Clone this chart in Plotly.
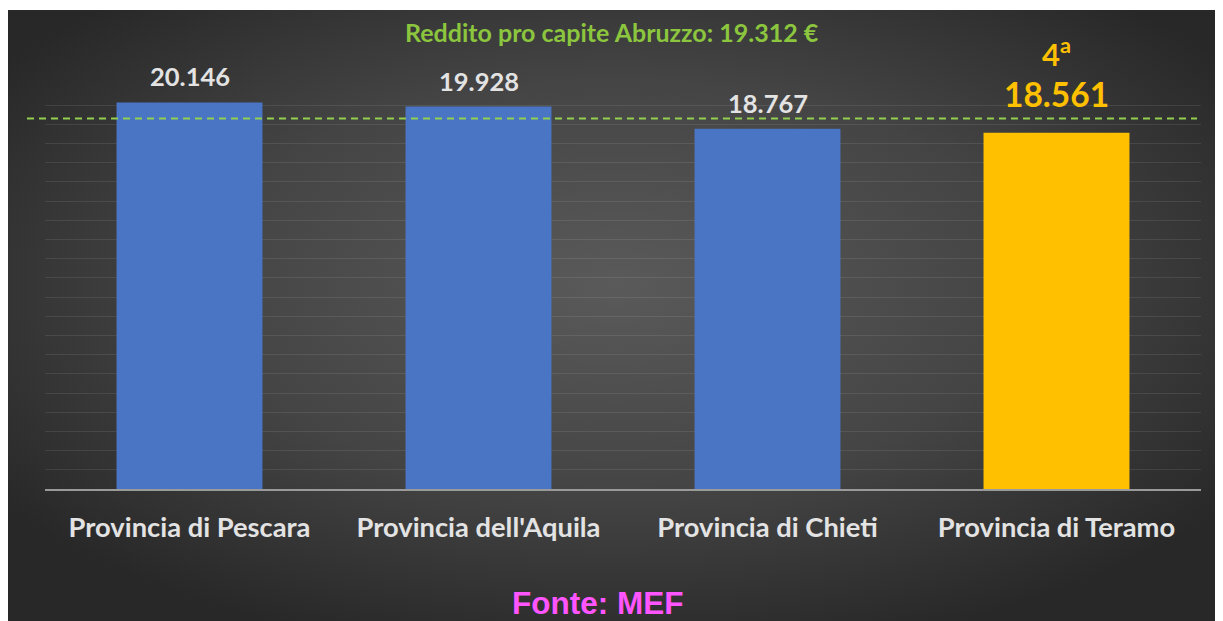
import base64
import plotly.graph_objects as go

# ---- data ----
categories = ["Provincia di Pescara", "Provincia dell'Aquila", "Provincia di Chieti", "Provincia di Teramo"]
values = [20146, 19928, 18767, 18561]
regional_avg = 19312
rank_label = "4<sup>a</sup>"
avg_label = "Reddito pro capite Abruzzo: 19.312 €"
source_label = "Fonte: MEF"

# page body adds an 8px offset; figure sized to fill the rest of the window
W, H = 1215, 613
ML, MR, MT, MB = 37, 22, 78, 132
PW, PH = W - ML - MR, H - MT - MB

def fmt(v):
    return f"{v:,}".replace(",", ".")

svg = f'''<svg xmlns="http://www.w3.org/2000/svg" width="{W}" height="{H}" viewBox="0 0 {W} {H}" preserveAspectRatio="none">
<defs><radialGradient id="g" cx="0.5" cy="0.45" r="0.62">
<stop offset="0" stop-color="#5a5a5a"/><stop offset="0.55" stop-color="#444444"/><stop offset="1" stop-color="#282828"/>
</radialGradient></defs>
<rect x="0" y="0" width="{W}" height="{H}" fill="#ffffff"/>
<rect x="0" y="2" width="{W}" height="{H-2}" fill="url(#g)"/>
</svg>'''
bg_uri = "data:image/svg+xml;base64," + base64.b64encode(svg.encode()).decode()

colors = ["#4a74c4", "#4a74c4", "#4a74c4", "#ffc000"]

fig = go.Figure()
fig.add_trace(go.Bar(x=categories, y=values, marker=dict(color=colors, line=dict(width=0)),
                     width=0.505, hoverinfo="x+y"))

fig.add_shape(type="line", xref="paper", yref="y", x0=-18 / PW, x1=1152 / PW,
              y0=regional_avg, y1=regional_avg,
              line=dict(color="#92d050", width=2, dash="7px,5px"), layer="above")

ann = []
for c, v in zip(categories[:3], values[:3]):
    ann.append(dict(x=c, y=v, xref="x", yref="y", text=fmt(v), showarrow=False,
                    yanchor="middle", yshift=26,
                    font=dict(family="Lato", size=25.5, color="#e3e3e3", weight="bold")))
ann.append(dict(x=categories[3], y=values[3], xref="x", yref="y", text=fmt(values[3]), showarrow=False,
                yanchor="middle", yshift=39,
                font=dict(family="Lato", size=33.5, color="#ffc000", weight="bold")))
ann.append(dict(x=categories[3], y=values[3], xref="x", yref="y", text=rank_label, showarrow=False,
                yanchor="middle", yshift=80,
                font=dict(family="Lato", size=31, color="#ffc000", weight="bold")))
ann.append(dict(x=(612 - 8 - ML) / PW, y=(H - MB - 24) / PH, xref="paper", yref="paper", text=avg_label,
                showarrow=False, xanchor="center", yanchor="middle",
                font=dict(family="Lato", size=25, color="#8cc63e", weight="bold")))
ann.append(dict(x=(597 - 8 - ML) / PW, y=(H - MB - 595) / PH, xref="paper", yref="paper", text=source_label,
                showarrow=False, xanchor="center", yanchor="middle",
                font=dict(family="Liberation Sans, Arial", size=31.5, color="#ff55ff", weight="bold")))

fig.update_layout(
    width=W, height=H,
    margin=dict(l=ML, r=MR, t=MT, b=MB),
    paper_bgcolor="#2e2e2e", plot_bgcolor="rgba(0,0,0,0)",
    showlegend=False, bargap=0.495,
    annotations=ann,
    images=[dict(source=bg_uri, xref="paper", yref="paper", x=-ML / PW, y=(H - MB) / PH,
                 sizex=W / PW, sizey=H / PH, xanchor="left", yanchor="top",
                 sizing="stretch", layer="below")],
    xaxis=dict(showline=True, linecolor="#9a9a9a", linewidth=2, ticks="", showgrid=False,
               tickfont=dict(family="Lato", size=27.3, color="#e3e3e3", weight="bold"),
               ticklabelstandoff=13),
    yaxis=dict(range=[0, 21000], dtick=1000, showticklabels=False, zeroline=False,
               showgrid=True, gridcolor="rgba(255,255,255,0.09)", gridwidth=1),
)

fig.write_html("out.html")
